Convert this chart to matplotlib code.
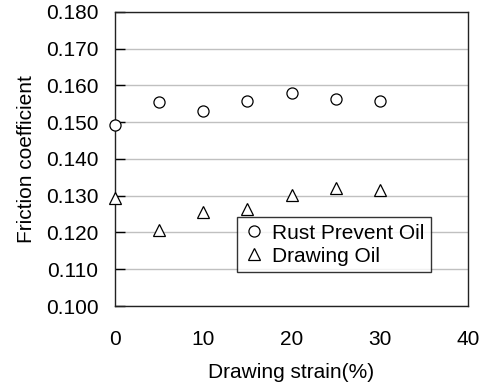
import matplotlib
matplotlib.use("Agg")
import matplotlib.pyplot as plt

plt.rcParams['font.family'] = ['Liberation Sans', 'DejaVu Sans']

# drawing strain (%) and measured friction coefficients
strain = [0, 5, 10, 15, 20, 25, 30]
rust_prevent = [0.1493, 0.1554, 0.1531, 0.1559, 0.1580, 0.1563, 0.1559]
drawing_oil = [0.1294, 0.1207, 0.1256, 0.1265, 0.1302, 0.1322, 0.1317]

y_ticks = [0.100, 0.110, 0.120, 0.130, 0.140, 0.150, 0.160, 0.170, 0.180]
x_ticks = [0, 10, 20, 30, 40]

fig = plt.figure(figsize=(4.88, 3.87), dpi=100)
ax = fig.add_axes([115 / 488, 1 - 306 / 387, (468 - 115) / 488, (306 - 12) / 387])

ax.plot(strain, rust_prevent, linestyle='none', marker='o', markersize=8,
        markerfacecolor='white', markeredgecolor='black', markeredgewidth=0.9,
        label='Rust Prevent Oil', clip_on=False, zorder=3)
ax.plot(strain, drawing_oil, linestyle='none', marker='^', markersize=8,
        markerfacecolor='white', markeredgecolor='black', markeredgewidth=0.9,
        label='Drawing Oil', clip_on=False, zorder=3)

ax.set_xlim(0, 40)
ax.set_ylim(0.100, 0.180)
ax.set_xticks(x_ticks)
ax.set_yticks(y_ticks)
ax.set_yticklabels(['%.3f' % v for v in y_ticks])
ax.yaxis.grid(True, color='#c0c0c0', linewidth=1)
ax.set_axisbelow(True)
ax.tick_params(axis='y', direction='in', length=7, width=1, labelsize=15, pad=12)
ax.tick_params(axis='x', length=0, labelsize=15, pad=17)
for s in ax.spines.values():
    s.set_linewidth(1)
    s.set_color('#222222')

ax.set_xlabel('Drawing strain(%)', fontsize=15, labelpad=10)
ax.set_ylabel('Friction coefficient', fontsize=15, labelpad=7)

leg = ax.legend(loc='lower left', bbox_to_anchor=((237 - 115) / 353, (306 - 272) / 294),
                fontsize=15, frameon=True, fancybox=False, edgecolor='black',
                handlelength=1.0, handletextpad=0.4, borderpad=0.3, labelspacing=0.2,
                borderaxespad=0)
leg.get_frame().set_linewidth(1)

fig.savefig('out.png', dpi=100)
